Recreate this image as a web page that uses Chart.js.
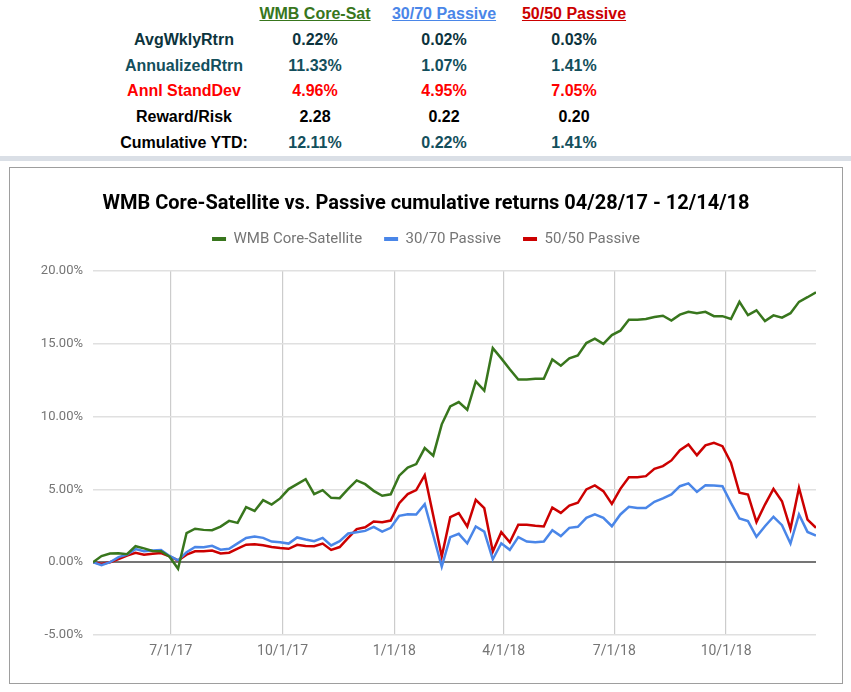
<!DOCTYPE html>
<html>
<head>
<meta charset="utf-8">
<script src="https://cdn.jsdelivr.net/npm/chart.js@4.4.1/dist/chart.umd.min.js"></script>
<style>
  body { margin: 0; width: 851px; height: 692px; background: #fff; position: relative; overflow: hidden;
         font-family: "Liberation Sans", Arial, sans-serif; }
  .cell { position: absolute; width: 170px; margin-left: -85px; text-align: center; font-weight: bold;
          font-size: 16px; line-height: 20px; white-space: nowrap; }
  .head { text-decoration: underline; }
  #band { position: absolute; left: 0; top: 156px; width: 851px; height: 5px; background: #dadfe6; }
  #box { position: absolute; left: 9px; top: 167px; width: 832px; height: 515px; border: 1px solid #9e9e9e; }
  #chart { display: block; }
</style>
</head>
<body>
<div id="stats"></div>
<div id="band"></div>
<div id="box"><canvas id="chart" width="832" height="515"></canvas></div>
<script>
// summary table
const statHeaders = ['WMB Core-Sat', '30/70 Passive', '50/50 Passive'];
const statNames = ['AvgWklyRtrn', 'AnnualizedRtrn', 'Annl StandDev', 'Reward/Risk', 'Cumulative YTD:'];
const statCore = ['0.22%', '11.33%', '4.96%', '2.28', '12.11%'];
const stat3070 = ['0.02%', '1.07%', '4.95%', '0.22', '0.22%'];
const stat5050 = ['0.03%', '1.41%', '7.05%', '0.20', '1.41%'];

// chart data, weekly from 04/28/17 to 12/14/18 (cumulative return, %)
const startDay = '4/28/17';
const endDay = '12/14/18';
const tickLabels = ['7/1/17', '10/1/17', '1/1/18', '4/1/18', '7/1/18', '10/1/18'];
const yTicks = [-5, 0, 5, 10, 15, 20];

const coreSat = [0, 0.42, 0.6, 0.62, 0.55, 1.1, 0.95, 0.77, 0.75, 0.38,
  -0.45, 2.0, 2.3, 2.22, 2.2, 2.45, 2.84, 2.7, 3.78, 3.52,
  4.26, 3.96, 4.38, 5.02, 5.36, 5.7, 4.68, 4.95, 4.42, 4.4,
  5.04, 5.62, 5.36, 4.9, 4.56, 4.66, 5.94, 6.5, 6.74, 7.84,
  7.32, 9.47, 10.7, 11.0, 10.47, 12.42, 11.78, 14.7, 14.0, 13.25,
  12.55, 12.55, 12.6, 12.6, 13.92, 13.5, 14.0, 14.2, 15.05, 15.35,
  15.0, 15.6, 15.9, 16.65, 16.65, 16.7, 16.84, 16.93, 16.6, 17.0,
  17.2, 17.1, 17.2, 16.9, 16.9, 16.7, 17.88, 16.97, 17.3, 16.56,
  16.95, 16.8, 17.1, 17.88, 18.2, 18.54];

const passive3070 = [0, -0.2, 0.0, 0.35, 0.52, 0.9, 0.75, 0.8, 0.84, 0.43,
  0.13, 0.68, 1.05, 1.02, 1.12, 0.86, 0.92, 1.29, 1.66, 1.76,
  1.67, 1.42, 1.37, 1.28, 1.7, 1.56, 1.44, 1.67, 1.15, 1.44,
  1.97, 2.06, 2.15, 2.43, 2.1, 2.36, 3.18, 3.3, 3.27, 3.98,
  1.85, -0.3, 1.72, 1.95, 1.3, 2.45, 2.1, 0.2, 1.3, 0.85,
  1.72, 1.42, 1.37, 1.42, 2.2, 1.79, 2.36, 2.43, 3.05, 3.28,
  3.05, 2.47, 3.28, 3.8, 3.73, 3.73, 4.15, 4.38, 4.65, 5.22,
  5.41, 4.83, 5.29, 5.27, 5.22, 4.08, 3.0, 2.82, 1.74, 2.47,
  3.12, 2.54, 1.28, 3.28, 2.08, 1.83];

const passive5050 = [0, -0.12, 0.0, 0.22, 0.45, 0.65, 0.52, 0.58, 0.63, 0.4,
  0.12, 0.52, 0.75, 0.75, 0.8, 0.6, 0.65, 0.94, 1.2, 1.23,
  1.17, 1.05, 0.97, 0.92, 1.19, 1.12, 1.1, 1.28, 0.84, 1.04,
  1.67, 2.27, 2.4, 2.8, 2.75, 2.86, 4.05, 4.68, 4.95, 5.98,
  3.2, 0.39, 3.09, 3.37, 2.45, 4.28, 3.71, 0.73, 2.06, 1.37,
  2.57, 2.57, 2.5, 2.45, 3.75, 3.39, 3.89, 4.08, 5.0, 5.27,
  4.88, 4.0, 5.04, 5.84, 5.84, 5.91, 6.41, 6.6, 6.99, 7.7,
  8.09, 7.35, 8.02, 8.2, 7.97, 6.83, 4.77, 4.65, 2.75, 3.96,
  5.04, 4.19, 2.29, 5.11, 2.93, 2.36];

// build the table
const stats = document.getElementById('stats');
const colX = [184, 315, 444, 574];
const rowY = [40, 66, 91, 117, 143];
const headColors = ['#38761d', '#4a86e8', '#cc0000'];
const labelColors = ['#0c343d', '#134f5c', '#ff0000', '#000000', '#000000'];
const valueColors = ['#0c343d', '#134f5c', '#ff0000', '#000000', '#134f5c'];

function addCell(text, x, y, color, cls) {
    const d = document.createElement('div');
    d.className = 'cell' + (cls ? ' ' + cls : '');
    d.textContent = text;
    d.style.left = x + 'px';
    d.style.top = (y - 10) + 'px';
    d.style.color = color;
    stats.appendChild(d);
}

statHeaders.forEach((h, i) => addCell(h, colX[i + 1], 14, headColors[i], 'head'));
statNames.forEach((name, r) => {
    addCell(name, colX[0], rowY[r], labelColors[r]);
    addCell(statCore[r], colX[1], rowY[r], valueColors[r]);
    addCell(stat3070[r], colX[2], rowY[r], valueColors[r]);
    addCell(stat5050[r], colX[3], rowY[r], valueColors[r]);
});

// days from the start date
function dayNum(s) {
    const [m, d, y] = s.split('/').map(Number);
    return Date.UTC(2000 + y, m - 1, d) / 86400000;
}
const day0 = dayNum(startDay);
const tickDays = tickLabels.map(t => dayNum(t) - day0);
const toPoints = arr => arr.map((v, i) => ({ x: i * 7, y: v }));

// extra room under the legend
const legendSpacer = {
    id: 'legendSpacer',
    beforeInit(chart) {
        const fit = chart.legend.fit;
        chart.legend.fit = function () {
            fit.call(this);
            this.height += 14.5;
        };
    }
};

Chart.defaults.font.family = 'Roboto';
Chart.defaults.color = '#757575';

const ctx = document.getElementById('chart').getContext('2d');
new Chart(ctx, {
    type: 'line',
    data: {
        datasets: [{
            label: 'WMB Core-Satellite',
            data: toPoints(coreSat),
            borderColor: '#38761d',
            backgroundColor: '#38761d'
        }, {
            label: '30/70 Passive',
            data: toPoints(passive3070),
            borderColor: '#4a86e8',
            backgroundColor: '#4a86e8'
        }, {
            label: '50/50 Passive',
            data: toPoints(passive5050),
            borderColor: '#cc0000',
            backgroundColor: '#cc0000'
        }]
    },
    options: {
        responsive: false,
        animation: false,
        elements: {
            line: { borderWidth: 2.5, tension: 0 },
            point: { radius: 0 }
        },
        plugins: {
            title: {
                display: true,
                text: 'WMB Core-Satellite vs. Passive cumulative returns ' + '04/28/17 - 12/14/18',
                color: '#000',
                font: { size: 20, weight: 'bold' },
                padding: { top: 24, bottom: -6.5 }
            },
            legend: {
                labels: {
                    boxWidth: 14,
                    boxHeight: 4,
                    padding: 22,
                    font: { size: 15 },
                    generateLabels(chart) {
                        const items = Chart.defaults.plugins.legend.labels.generateLabels(chart);
                        items.forEach(it => { it.lineWidth = 0; });
                        return items;
                    }
                }
            },
            tooltip: { enabled: false }
        },
        scales: {
            x: {
                type: 'linear',
                min: 0,
                max: dayNum(endDay) - day0,
                afterBuildTicks: scale => {
                    scale.ticks = tickDays.map(v => ({ value: v }));
                },
                afterFit: scale => { scale.height = 48; },
                ticks: {
                    font: { size: 14 },
                    padding: 8,
                    maxRotation: 0,
                    callback: value => tickLabels[tickDays.indexOf(value)]
                },
                grid: { color: '#cccccc', lineWidth: 1.2, drawTicks: false },
                border: { display: false }
            },
            y: {
                min: -5,
                max: 20,
                afterBuildTicks: scale => {
                    scale.ticks = yTicks.map(v => ({ value: v }));
                },
                afterFit: scale => { scale.width = 83; },
                ticks: {
                    font: { size: 13 },
                    padding: 10,
                    callback: value => value.toFixed(2) + '%'
                },
                grid: {
                    color: c => c.tick && c.tick.value === 0 ? '#757575' : '#e0e0e0',
                    lineWidth: c => c.tick && c.tick.value === 0 ? 2 : 1.5,
                    drawTicks: false
                },
                border: { display: false }
            },
            // empty right axis, only keeps the gap on the right
            yRight: {
                position: 'right',
                min: -5,
                max: 20,
                afterFit: scale => { scale.width = 26; },
                ticks: { display: false },
                grid: { display: false },
                border: { display: false }
            }
        }
    },
    plugins: [legendSpacer]
});
</script>
</body>
</html>
